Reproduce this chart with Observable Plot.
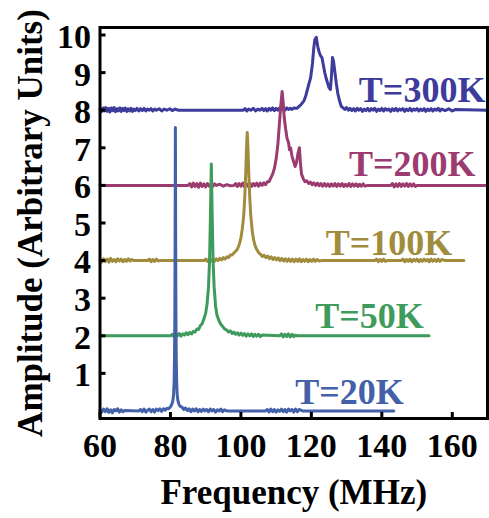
<!DOCTYPE html>
<html><head><meta charset="utf-8">
<script src="https://cdn.jsdelivr.net/npm/d3@7"></script>
<script src="https://cdn.jsdelivr.net/npm/@observablehq/plot@0.6"></script>
<style>body{margin:0;background:#fff}</style>
</head><body><div id="chart"></div>
<script>
// Spectra: flat lists of frequency (MHz), amplitude pairs
const t300 = [60,8.03, 60.4,7.96, 60.8,8.06, 61.2,7.98, 61.6,8.07, 62,7.97, 62.4,8.05, 62.8,7.95, 63.2,8.06, 63.6,7.99, 64,8.07, 64.4,7.96, 64.8,8.04, 65.2,7.98, 65.6,8.06, 66,7.97, 66.4,8.05, 66.8,7.99, 67.2,8.06, 67.6,7.97, 68,8.04, 68.4,7.98, 68.8,8.05, 69.2,7.97, 69.6,8.03, 70,7.99, 70.5,8.05, 71,7.98, 71.5,8.04, 72,7.99, 72.5,8.05, 73,7.98, 73.5,8.03, 74,8.0, 74.5,8.04, 75,7.98, 75.5,8.03, 76,8.0, 76.8,8.04, 77.5,7.98, 78.2,8.03, 79,8.0, 79.8,8.04, 80.5,7.99, 81.3,8.03, 82.3,8.0,
  100.7,8.0, 101.2,8.04, 101.7,7.98, 102.2,8.03, 102.8,8.0, 103.5,8.05, 104.2,7.98, 104.8,8.03, 105.4,8.0, 106,8.05, 106.5,7.99, 107,8.04, 107.5,7.98, 108,8.05, 108.5,8.0, 109,8.06, 109.5,7.99, 110,8.05, 110.5,8.0, 111,8.06, 111.5,8.01, 112,8.05, 112.5,8.0, 113,8.06, 113.5,8.02, 114,8.05, 114.5,8.02, 115,8.06,
  115.9,8.05, 116.5,8.1, 117,8.14, 117.5,8.2, 117.9,8.25, 118.4,8.38, 118.8,8.52, 119.3,8.7, 119.8,8.87, 120.3,9.23, 120.7,9.67, 121.0,9.88, 121.4,9.94, 121.8,9.7, 122.2,9.55, 122.6,9.45, 123.0,9.4, 123.4,9.2, 123.8,9.0, 124.2,8.85, 124.6,8.72, 125.0,8.6, 125.4,8.55, 125.7,8.9, 126.0,9.4, 126.3,9.3, 126.7,9.0, 127.1,8.7, 127.5,8.45, 128,8.25, 128.5,8.1, 129,8.06,
  129.5,8.02, 130,8.07, 130.5,8.0, 131,8.05, 131.5,7.99, 132,8.04, 132.5,7.98, 133,8.05, 133.5,8.0, 134,8.04, 134.5,7.97, 135,8.03, 135.5,7.99, 136,8.05, 136.5,7.98, 137,8.04, 137.5,8.0, 138,8.05, 138.5,7.97, 139,8.03, 139.5,7.99, 140,8.05, 140.5,7.98, 141,8.04, 141.5,8.0, 142,8.03, 142.5,7.97, 143,8.04, 143.5,7.99, 144,8.05, 144.5,7.98, 145,8.03, 145.5,8.0, 146,8.04, 146.5,7.97, 147,8.03, 147.5,7.99, 148,8.05, 148.5,7.98, 149,8.03, 149.5,8.0, 150,8.04, 150.5,7.98, 151,8.03, 151.5,7.99, 152,8.04, 152.5,7.97, 153,8.03, 153.5,7.99, 154,8.04, 154.5,7.98, 155,8.03, 155.5,8.0, 156,8.05, 156.5,7.98, 157,8.03, 158,7.99, 159,8.04, 160,7.98, 161,8.02, 170,8.0];

const t200 = [60,6, 85,6, 85.5,6.05, 86,5.96, 86.5,6.06, 87,5.97, 87.5,6.05, 88,5.95, 88.5,6.06, 89,5.97, 89.5,6.04, 90,5.96, 90.5,6.05, 91,5.98, 91.5,6.04, 92,5.97, 92.5,6.04, 93,6.0, 94,6.03, 95,5.98, 96,6.02, 97,5.99, 98,6.0, 98.5,6.05, 99,5.97, 99.5,6.05, 100,5.98, 100.5,6.06, 101,5.97, 101.5,6.05, 102,5.98, 102.5,6.06, 103,5.97, 103.5,6.05, 104,5.99, 104.5,6.06, 105,5.98, 105.5,6.06, 106,6.0, 106.5,6.07, 107,6.02, 107.5,6.1, 108,6.1, 108.5,6.2, 109,6.3, 109.5,6.45, 110,6.7, 110.5,7.1, 110.9,7.6, 111.3,8.1, 111.7,8.5, 112,8.2, 112.3,7.8, 112.7,7.5, 113.1,7.25, 113.5,7.15, 113.8,6.95, 114.1,7.0, 114.5,6.78, 115,6.62, 115.4,6.5, 115.8,6.62, 116.2,6.85, 116.6,7.0, 116.9,6.6, 117.2,6.3, 117.7,6.18, 118.2,6.1, 118.7,6.12, 119.2,6.05, 119.7,6.09, 120.2,6.02, 120.7,6.07, 121.2,6.0, 121.7,6.06, 122.2,5.99, 122.7,6.05, 123.2,5.98, 123.7,6.05, 124.2,5.98, 124.7,6.04, 125.2,5.97, 125.7,6.04, 126.2,5.98, 126.7,6.05, 127.2,5.97, 127.7,6.04, 128.2,5.98, 128.7,6.05, 129.2,5.97, 129.7,6.03, 130.2,5.98, 130.7,6.05, 131.2,5.97, 131.7,6.04, 132.2,5.98, 132.7,6.04, 133.2,5.97, 133.7,6.03, 134.2,5.98, 134.7,6.04, 135.2,5.98, 136,6.0, 142.5,6.0, 143,6.05, 143.5,5.96, 144,6.04, 144.5,5.97, 145,6.05, 145.5,5.97, 146,6.04, 146.5,5.98, 147,6.05, 147.5,5.97, 148,6.04, 148.5,5.98, 149,6.04, 149.5,5.97, 150,6.0, 170,6.0];

const t100 = [60,4.02, 60.5,3.96, 61,4.05, 61.5,3.98, 62,4.04, 62.5,3.96, 63,4.06, 63.5,3.98, 64,4.03, 64.5,3.97, 65,4.05, 65.5,3.99, 66,4.04, 66.5,3.97, 67,4.03, 67.5,3.98, 68,4.05, 68.5,3.99, 69,4.03, 69.5,4.0, 73.5,4.0, 74,4.04, 74.5,3.97, 75,4.03, 75.5,3.98, 76,4.04, 76.5,3.99, 77,4.0, 89.5,4.0, 90,4.04, 90.5,3.98, 91,4.05, 91.5,3.99, 92,4.04, 92.5,3.98, 93,4.05, 93.5,4.0, 94,4.06, 94.5,4.02, 95,4.08, 95.5,4.04, 96,4.1, 96.5,4.08, 97,4.15, 97.5,4.15, 98,4.2, 98.5,4.25, 99,4.3, 99.5,4.42, 100,4.6, 100.4,4.85, 100.8,5.2, 101.1,5.7, 101.4,6.4, 101.6,7.0, 101.8,7.41, 102.0,7.0, 102.2,6.4, 102.5,5.7, 102.8,5.2, 103.2,4.8, 103.6,4.55, 104.1,4.38, 104.6,4.28, 105.1,4.2, 105.6,4.17, 106.1,4.11, 106.6,4.14, 107.1,4.08, 107.6,4.12, 108.1,4.05, 108.6,4.1, 109.1,4.03, 109.6,4.08, 110.1,4.02, 110.6,4.07, 111.1,4.0, 111.6,4.06, 112.1,3.99, 112.6,4.05, 113.1,3.98, 113.6,4.05, 114.1,3.98, 114.6,4.04, 115.1,3.97, 115.6,4.04, 116.1,3.98, 116.6,4.05, 117.1,3.97, 117.6,4.03, 118.1,3.98, 118.6,4.04, 119.1,3.97, 119.6,4.03, 120.1,3.98, 120.6,4.04, 121.1,3.98, 121.6,4.03, 122.1,3.99, 123,4.0, 138,4.0, 138.5,4.04, 139,3.97, 139.5,4.03, 140,3.98, 140.5,4.04, 141,3.98, 141.5,4.0, 145.5,4.0, 146,4.04, 146.5,3.97, 147,4.03, 147.5,3.98, 148,4.04, 148.5,3.97, 149,4.03, 149.5,3.99, 150,4.04, 150.5,3.97, 151,4.03, 151.5,3.98, 152,4.04, 152.5,3.99, 153,4.03, 153.5,3.97, 154,4.04, 154.5,3.98, 155,4.03, 155.5,3.98, 156,4.04, 156.5,3.98, 157,4.03, 158,4.0, 163.3,4.0];

const t50 = [60,2, 80,2, 80.5,2.04, 81,1.98, 81.5,2.05, 82,2.0, 82.5,2.06, 83,1.99, 83.5,2.05, 84,2.02, 84.5,2.08, 85,2.03, 85.5,2.09, 86,2.05, 86.5,2.12, 87,2.1, 87.5,2.18, 88,2.17, 88.5,2.27, 89,2.32, 89.5,2.45, 90,2.6, 90.4,2.85, 90.8,3.3, 91.1,4.0, 91.35,5.2, 91.6,6.57, 91.85,5.2, 92.1,4.0, 92.4,3.3, 92.8,2.8, 93.2,2.55, 93.7,2.42, 94.2,2.32, 94.8,2.25, 95.4,2.18, 96,2.15, 96.5,2.1, 97,2.13, 97.5,2.06, 98,2.1, 98.5,2.04, 99,2.08, 99.5,2.02, 100,2.07, 100.5,2.01, 101,2.06, 101.5,1.99, 102,2.05, 102.5,2.0, 103,2.05, 103.5,1.98, 104,2.04, 104.5,1.99, 105,2.04, 105.5,1.98, 106,2.02, 111,2.0, 111.5,2.05, 112,1.97, 112.5,2.04, 113,1.98, 113.5,2.05, 114,1.97, 114.5,2.04, 115,1.98, 115.5,2.02, 116,2.0, 153.4,2.0];

const t20 = [60,0.02, 60.5,-0.03, 61,0.05, 61.5,-0.02, 62,0.06, 62.5,-0.04, 63,0.03, 63.5,-0.05, 64,0.04, 64.5,0, 65,0.06, 65.5,-0.03, 66,0.03, 66.5,-0.02, 67,0.01, 71,0, 71.5,0.04, 72,-0.02, 72.5,0.05, 73,-0.03, 73.5,0.02, 74,0.05, 74.5,-0.02, 75,0.04, 75.5,-0.03, 76,0.05, 76.5,0.01, 77,0.06, 77.5,-0.01, 78,0.06, 78.5,0.02, 79,0.07, 79.5,0.06, 80,0.11, 80.4,0.18, 80.7,0.28, 80.9,0.45, 81.05,0.8, 81.15,1.4, 81.25,2.6, 81.32,4.5, 81.4,7.54, 81.48,4.5, 81.55,2.6, 81.65,1.4, 81.75,0.8, 81.9,0.45, 82.1,0.28, 82.4,0.18, 82.8,0.12, 83.3,0.1, 83.8,0.04, 84.3,0.08, 84.8,0.01, 85.3,0.06, 85.8,-0.02, 86.3,0.05, 86.8,0.0, 87.3,0.06, 87.8,-0.02, 88.3,0.04, 88.8,-0.01, 89.3,0.05, 89.8,0.0, 90.3,0.04, 90.8,-0.02, 91.3,0.05, 91.8,0.0, 92.3,0.04, 92.8,-0.03, 93.3,0.03, 93.8,0.0, 94.3,0.05, 94.8,-0.02, 95.3,0.03, 96,0, 107,0, 107.5,0.04, 108,-0.03, 108.5,0.05, 109,-0.02, 109.5,0.04, 110,-0.03, 110.5,0.03, 111,-0.01, 111.5,0.05, 112,-0.02, 112.5,0.04, 113,-0.03, 113.5,0.05, 114,0.0, 114.5,0.04, 115,-0.03, 115.5,0.05, 116,-0.02, 116.5,0.04, 117.5,0, 143.4,0];

// Series (drawn in this order), colours and labels
const seriesData = [t300, t200, t100, t50, t20];
const seriesColors = ["#3d3b9b", "#9c3b6f", "#a08c3c", "#3f9b5b", "#4261a8"];
const labels = ["T=300K", "T=200K", "T=100K", "T=50K", "T=20K"];
const labelX = [169.4, 166.6, 160.0, 151.9, 146.2];
const labelY = [8.21, 6.26, 4.16, 2.21, 0.19];
const xTicks = [60, 80, 100, 120, 140, 160];
const yTicks = [1, 2, 3, 4, 5, 6, 7, 8, 9, 10];

const pairs = (a) => { const out = []; for (let i = 0; i < a.length; i += 2) out.push([a[i], a[i + 1]]); return out; };
const font = '"Liberation Serif","Times New Roman",serif';

const chart = Plot.plot({
  width: 489, height: 518,
  marginLeft: 99.5, marginRight: 2, marginTop: 27, marginBottom: 100,
  x: {domain: [60, 170]},
  y: {domain: [-0.2, 10.2]},
  style: {fontFamily: font, fontWeight: "bold", fontSize: "34px", color: "black", background: "white"},
  marks: [
    ...seriesData.map((s, i) => Plot.line(pairs(s), {stroke: seriesColors[i], strokeWidth: 3})),
    Plot.frame({stroke: "black", strokeWidth: 3}),
    // inward ticks: outward ticks shifted back inside the frame
    Plot.axisX(xTicks, {tickSize: 6, dy: -6, strokeWidth: 3, stroke: "black", tickFormat: () => "", label: null}),
    Plot.axisY(yTicks, {tickSize: 6, dx: 6, strokeWidth: 3, stroke: "black", tickFormat: () => "", label: null}),
    Plot.axisX(xTicks, {tickSize: 0, tickPadding: 14, fontSize: 34, label: null}),
    Plot.axisY(yTicks, {tickSize: 0, tickPadding: 9, fontSize: 34, dy: 2, label: null}),
    Plot.text(labels, {x: labelX, y: labelY, text: labels, fill: seriesColors, textAnchor: "end", lineAnchor: "bottom", fontSize: 36}),
    Plot.text(["Frequency (MHz)"], {frameAnchor: "bottom", dy: 85, lineAnchor: "bottom", fontSize: 35}),
    Plot.text(["Amplitude (Arbitrary Units)"], {frameAnchor: "left", textAnchor: "middle", rotate: -90, dx: -58.5, lineAnchor: "bottom", fontSize: 35})
  ]
});
document.getElementById("chart").append(chart);
</script>
</body></html>
